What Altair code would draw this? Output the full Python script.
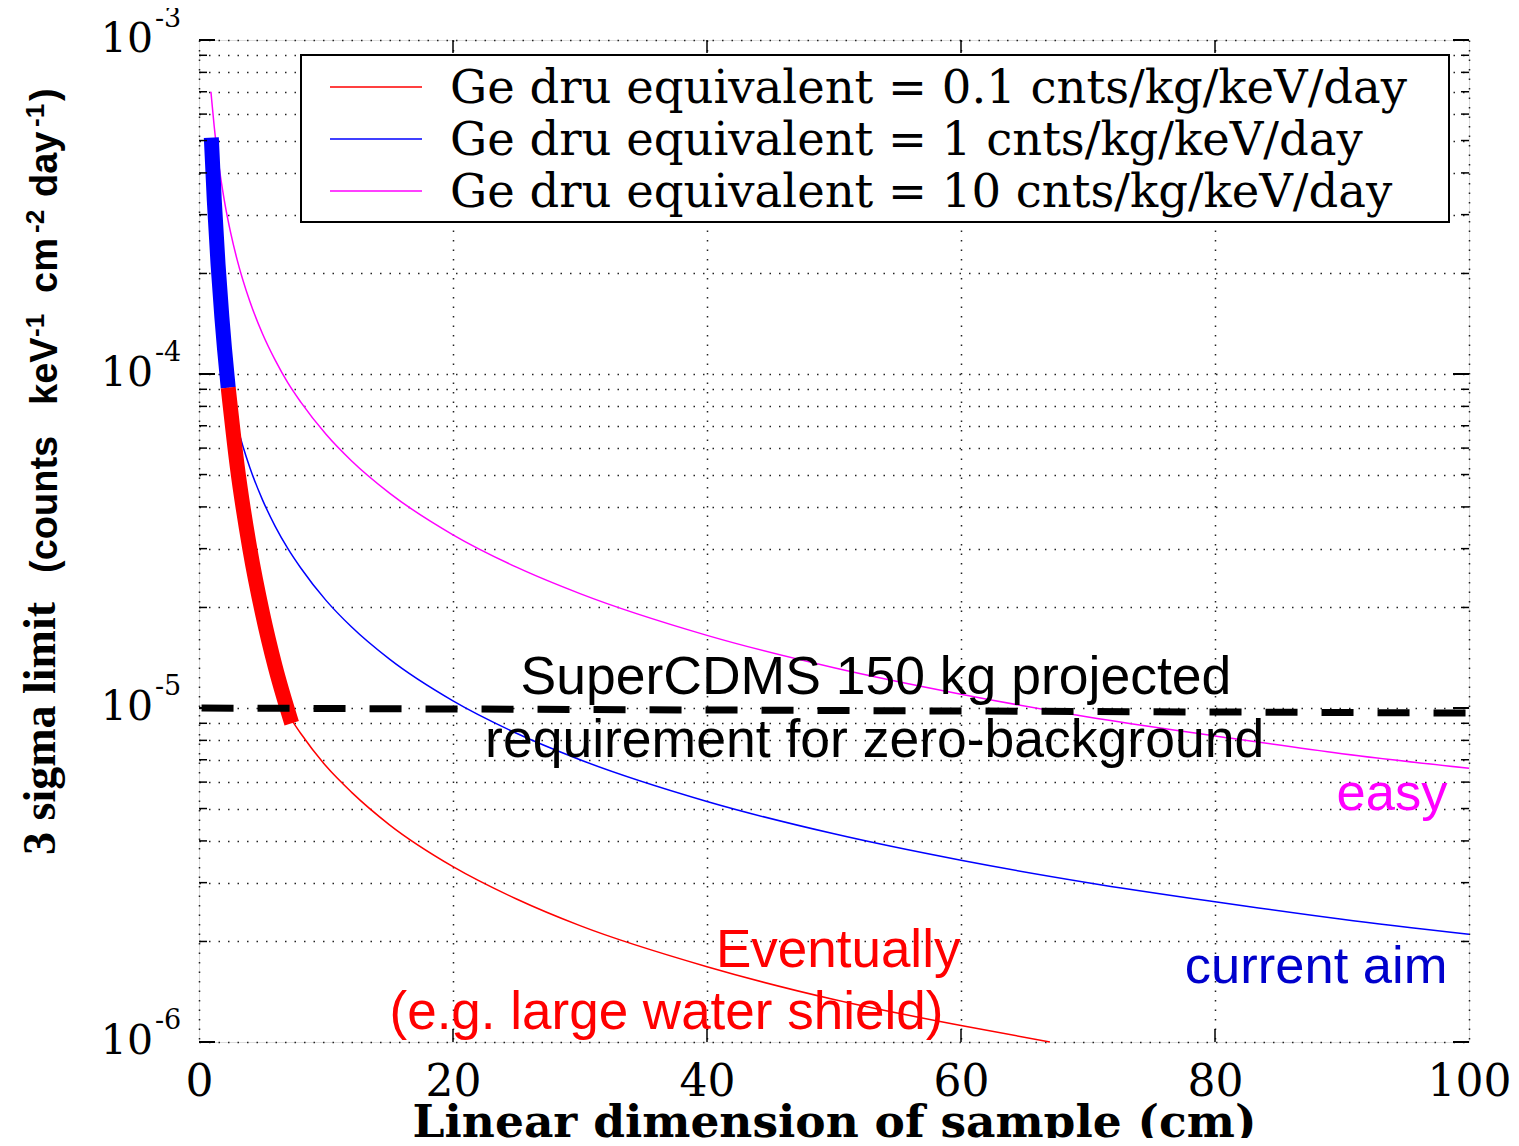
import altair as alt
import pandas as pd

# ---------------- data ----------------
# magenta: Ge dru equivalent = 10
x_mag = [0.94, 1, 1.2, 1.5, 2, 2.5, 3, 4, 5, 6, 7, 8, 10, 12, 15, 20, 25, 30, 40, 50, 60, 70, 80, 90, 100]
y_mag = [7.0e-4, 6.6e-4, 5.5e-4, 4.4e-4, 3.3e-4, 2.64e-4, 2.2e-4, 1.65e-4, 1.32e-4, 1.1e-4, 9.4e-5,
         8.25e-5, 6.6e-5, 5.5e-5, 4.4e-5, 3.3e-5, 2.64e-5, 2.2e-5, 1.65e-5, 1.32e-5, 1.1e-5, 9.4e-6,
         8.25e-6, 7.3e-6, 6.6e-6]
# blue: Ge dru equivalent = 1
x_blue = [2.3, 2.5, 3, 4, 5, 6, 7, 8, 10, 12, 15, 20, 25, 30, 40, 50, 60, 70, 80, 90, 100]
y_blue = [9.1e-5, 8.4e-5, 7.0e-5, 5.25e-5, 4.2e-5, 3.5e-5, 3.0e-5, 2.63e-5, 2.1e-5, 1.75e-5, 1.4e-5,
          1.05e-5, 8.4e-6, 7.0e-6, 5.25e-6, 4.2e-6, 3.5e-6, 3.0e-6, 2.63e-6, 2.33e-6, 2.1e-6]
# red: Ge dru equivalent = 0.1
x_red = [7.3, 8, 10, 12, 15, 20, 25, 30, 40, 50, 60, 67]
y_red = [9.2e-6, 8.4e-6, 6.7e-6, 5.6e-6, 4.47e-6, 3.35e-6, 2.68e-6, 2.23e-6, 1.68e-6, 1.34e-6, 1.12e-6, 1.0e-6]
# thick highlighted path (blue part, then red part)
x_thick_blue = [0.97, 1.2, 1.5, 1.8, 2.0, 2.3]
y_thick_blue = [5.1e-4, 3.33e-4, 2.13e-4, 1.48e-4, 1.2e-4, 9.1e-5]
x_thick_red = [2.3, 3, 4, 5, 6, 7.3]
y_thick_red = [9.1e-5, 5.33e-5, 3.0e-5, 1.92e-5, 1.33e-5, 9.0e-6]
# dashed requirement line
x_req = [0.2, 100]
y_req = [1.0e-5, 9.66e-6]

legend_labels = [
    "Ge dru equivalent = 0.1 cnts/kg/keV/day",
    "Ge dru equivalent = 1 cnts/kg/keV/day",
    "Ge dru equivalent = 10 cnts/kg/keV/day",
]
legend_colors = ["#ff0000", "#0000ff", "#ff00ff"]

x_tick_labels = [0, 20, 40, 60, 80, 100]
x_tick_marks = [20, 40, 60, 80]
y_major = [1e-6, 1e-5, 1e-4, 1e-3]
y_exponents = ["-6", "-5", "-4", "-3"]
y_minor = [m * 10.0 ** k for k in (-6, -5, -4) for m in range(2, 10)]

ann_center_text = ["SuperCDMS 150 kg projected", "requirement for zero-background"]
ann_center_x = [53.3, 53.2]
ann_center_y = [1.10e-5, 7.13e-6]

ann_right_text = ["easy", "current aim"]
ann_right_x = [98.3, 98.3]
ann_right_y = [4.95e-6, 1.50e-6]
ann_right_color = ["#ff00ff", "#0000cc"]

ann_left_text = ["Eventually", "(e.g. large water shield)"]
ann_left_x = [40.7, 15.0]
ann_left_y = [1.68e-6, 1.09e-6]

# y-axis title pieces: text, superscript?, start position along the axis
ytitle_parts = ["(counts", "keV", "-1", "cm", "-2", "day", "-1", ")"]
ytitle_sup = [False, False, True, False, True, False, True, False]
ytitle_start = [533, 365, 297, 253, 193, 157, 87, 61]

# ---------------- chart ----------------
W, H = 1270, 1002
xscale = alt.Scale(domain=[0, 100], nice=False, zero=False)
yscale = alt.Scale(type="log", domain=[1e-6, 1e-3], nice=False)

xaxis = alt.Axis(values=x_tick_labels, grid=True, gridDash=[1.5, 8], gridColor="#222222", gridWidth=1.5,
                 ticks=False, tickSize=0, domain=False, labelFont="DejaVu Serif", labelFontSize=44,
                 labelColor="black", labelPadding=53, labelBaseline="alphabetic", labelFlush=False,
                 labelOverlap=False, format="d",
                 title="Linear dimension of sample (cm)", titleFont="DejaVu Serif", titleFontWeight="bold",
                 titleFontSize=45.5, titleColor="black", titleBaseline="alphabetic", titleY=94)
yaxis = alt.Axis(values=sorted(y_minor + y_major), grid=True, gridDash=[1.5, 8], gridColor="#222222",
                 gridWidth=1.5, ticks=False, tickSize=0, domain=False, labels=False, title=None)

X = alt.X("x:Q", scale=xscale, axis=xaxis)
Y = alt.Y("y:Q", scale=yscale, axis=yaxis)


def line_df(xs, ys):
    return pd.DataFrame({"x": xs, "y": ys})


layers = []

# thin curves
for xs, ys, col in [(x_red, y_red, "#ff0000"), (x_blue, y_blue, "#0000ff"), (x_mag, y_mag, "#ff00ff")]:
    layers.append(alt.Chart(line_df(xs, ys)).mark_line(color=col, strokeWidth=1.5, interpolate="monotone")
                  .encode(x=X, y=Y))

# thick highlighted path
layers.append(alt.Chart(line_df(x_thick_blue, y_thick_blue)).mark_line(color="#0000ff", strokeWidth=15,
              interpolate="monotone", strokeCap="butt").encode(x=X, y=Y))
layers.append(alt.Chart(line_df(x_thick_red, y_thick_red)).mark_line(color="#ff0000", strokeWidth=15,
              interpolate="monotone", strokeCap="butt").encode(x=X, y=Y))

# dashed requirement line
layers.append(alt.Chart(line_df(x_req, y_req)).mark_line(color="black", strokeWidth=7, strokeDash=[32, 24],
              strokeCap="butt").encode(x=X, y=Y))

# inward ticks
ymaj_df = pd.DataFrame({"y": y_major})
ymin_df = pd.DataFrame({"y": y_minor})
xt_df = pd.DataFrame({"x": x_tick_marks})
layers += [
    alt.Chart(ymaj_df).mark_rule(color="black", strokeWidth=2).encode(y=Y, x=alt.value(0), x2=alt.value(16)),
    alt.Chart(ymaj_df).mark_rule(color="black", strokeWidth=2).encode(y=Y, x=alt.value(W), x2=alt.value(W - 16)),
    alt.Chart(ymin_df).mark_rule(color="black", strokeWidth=1.5).encode(y=Y, x=alt.value(0), x2=alt.value(8)),
    alt.Chart(ymin_df).mark_rule(color="black", strokeWidth=1.5).encode(y=Y, x=alt.value(W), x2=alt.value(W - 8)),
    alt.Chart(xt_df).mark_rule(color="black", strokeWidth=1.5).encode(x=X, y=alt.value(H), y2=alt.value(H - 13)),
    alt.Chart(xt_df).mark_rule(color="black", strokeWidth=1.5).encode(x=X, y=alt.value(0), y2=alt.value(13)),
]

# y tick labels 10^k
ylab_df = pd.DataFrame({"y": y_major, "exp": y_exponents, "base": ["10"] * 4})
layers.append(alt.Chart(ylab_df).mark_text(font="DejaVu Serif", fontSize=41, align="right", baseline="middle",
              color="black").encode(y=Y, x=alt.value(-46), text="base:N"))
layers.append(alt.Chart(ylab_df).mark_text(font="DejaVu Serif", fontSize=27, align="left", baseline="alphabetic",
              dy=-13, color="black").encode(y=Y, x=alt.value(-44), text="exp:N"))

# y axis title (two fonts, with raised exponents)
one = pd.DataFrame({"a": [0]})
layers.append(alt.Chart(one).mark_text(text="3 sigma limit", font="Liberation Serif", fontWeight="bold",
              fontSize=46, angle=270, align="left", baseline="alphabetic", color="black")
              .encode(x=alt.value(-144), y=alt.value(815)))
for part, sup, start in zip(ytitle_parts, ytitle_sup, ytitle_start):
    layers.append(alt.Chart(one).mark_text(text=part, font="Liberation Sans", fontWeight="bold",
                  fontSize=26 if sup else 38, angle=270, align="left", baseline="alphabetic", color="black")
                  .encode(x=alt.value(-155 if sup else -142), y=alt.value(start)))

# legend box
layers.append(alt.Chart(one).mark_rect(fill="white", stroke="black", strokeWidth=2)
              .encode(x=alt.value(102), x2=alt.value(1250), y=alt.value(15), y2=alt.value(182)))
for i, (lab, col) in enumerate(zip(legend_labels, legend_colors)):
    yy = 47 + 52 * i
    layers.append(alt.Chart(one).mark_rule(color=col, strokeWidth=1.5)
                  .encode(x=alt.value(131), x2=alt.value(223), y=alt.value(yy)))
    layers.append(alt.Chart(one).mark_text(text=lab, font="DejaVu Serif", fontSize=46.5, align="left",
                  baseline="alphabetic", color="black")
                  .encode(x=alt.value(251), y=alt.value(yy + 16)))

# annotations
ac = pd.DataFrame({"x": ann_center_x, "y": ann_center_y, "t": ann_center_text})
layers.append(alt.Chart(ac).mark_text(font="Liberation Sans", fontSize=53.5, align="center",
              baseline="alphabetic", color="black").encode(x=X, y=Y, text="t:N"))
ar = pd.DataFrame({"x": ann_right_x, "y": ann_right_y, "t": ann_right_text, "c": ann_right_color})
layers.append(alt.Chart(ar).mark_text(font="Liberation Sans", fontSize=52.5, align="right",
              baseline="alphabetic").encode(x=X, y=Y, text="t:N", color=alt.Color("c:N", scale=None)))
al = pd.DataFrame({"x": ann_left_x, "y": ann_left_y, "t": ann_left_text})
layers.append(alt.Chart(al).mark_text(font="Liberation Sans", fontSize=53, align="left",
              baseline="alphabetic", color="#ff0000").encode(x=X, y=Y, text="t:N"))

chart = alt.layer(*layers).properties(
    width=W, height=H,
    autosize=alt.AutoSizeParams(type="none"),
    padding={"left": 191, "top": 32, "right": 42, "bottom": 96},
).configure_view(stroke="black", strokeWidth=2, fill="white").configure(background="white")

chart.save("out.html", embed_options={"renderer": "svg", "actions": False})
